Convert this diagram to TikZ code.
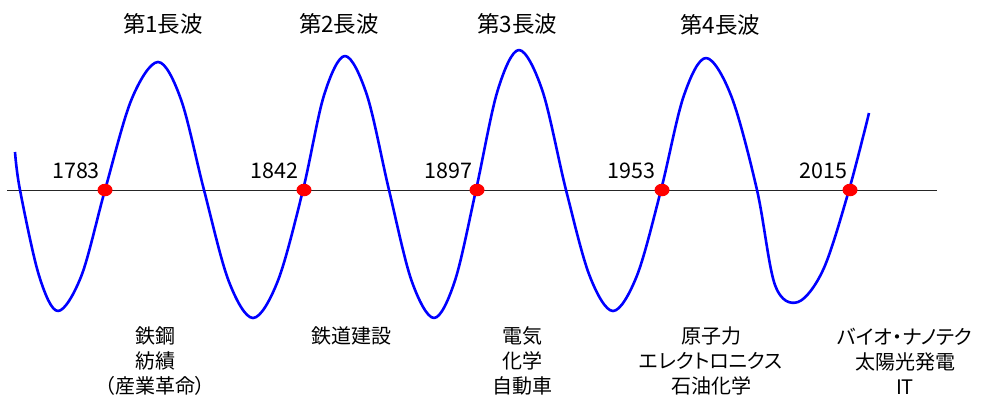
\documentclass[tikz,border=0pt]{standalone}
\usepackage{fontspec}
\usetikzlibrary{shapes.geometric}
\setmainfont{Noto Sans CJK JP}
\newfontfamily\jpp[RawFeature={+palt}]{Noto Sans CJK JP}
\begin{document}
\begin{tikzpicture}[x=1pt,y=-1pt,
  wave/.style={blue,line width=2.6pt,line join=round},
  axisline/.style={black!85,line width=1pt},
  dot/.style={fill=red,draw=none,ellipse,minimum width=15pt,minimum height=12.5pt,inner sep=0pt},
  title/.style={inner sep=0pt,font=\fontsize{22.5}{26}\selectfont},
  year/.style={inner sep=0pt,font=\fontsize{21.5}{24}\selectfont},
  lbl/.style={inner sep=0pt,align=center,font=\jpp\fontsize{20}{25}\selectfont}]
\useasboundingbox (0,0) rectangle (981,396);
\coordinate (a0) at (7,190);
\coordinate (a1) at (937,190);
\draw[axisline] (a0) -- (a1);
\draw[wave] plot[smooth,tension=0.55] coordinates {
 (15,152) (20,190) (39,275.5) (58,311) (81.5,275.5) (105,190) (131.5,99.5) (158,62)
 (181,99.5) (204,190) (228.5,280.5) (253,318) (278,280.5) (303,190) (324,95.3) (345,56)
 (367,95.3) (389,190) (411.5,280.5) (434,318) (455,280.5) (476,190) (497.5,91) (519,50)
 (542.5,91) (566,190) (589.5,275.5) (613,311) (637,275.5) (661,190) (683.5,96.7) (706,58)
 (731.5,96.7) (757,190) (775,285) (798,302) (823.5,269) (849,190) (869,113)};
\node[dot] (d1) at (105,190) {};
\node[dot] (d2) at (304,190) {};
\node[dot] (d3) at (477,190) {};
\node[dot] (d4) at (662,190) {};
\node[dot] (d5) at (850,190) {};
\node[year] (y1) at (76,171) {1783};
\node[year] (y2) at (274.5,171) {1842};
\node[year] (y3) at (448.5,171) {1897};
\node[year] (y4) at (631.5,171) {1953};
\node[year] (y5) at (823.5,171) {2015};
\node[title] (t1) at (163,24) {第1長波};
\node[title] (t2) at (339,24) {第2長波};
\node[title] (t3) at (517,24) {第3長波};
\node[title] (t4) at (720,25) {第4長波};
\node[lbl] (l1) at (155,361) {鉄鋼\\紡績\\（産業革命）};
\node[lbl] (l2) at (351,336) {鉄道建設};
\node[lbl] (l3) at (522,361) {電気\\化学\\自動車};
\node[lbl] (l4) at (711,361) {原子力\\エレクトロニクス\\石油化学};
\node[lbl] (l5) at (905,361) {バイオ・ナノテク\\太陽光発電\\IT};
\end{tikzpicture}
\end{document}
